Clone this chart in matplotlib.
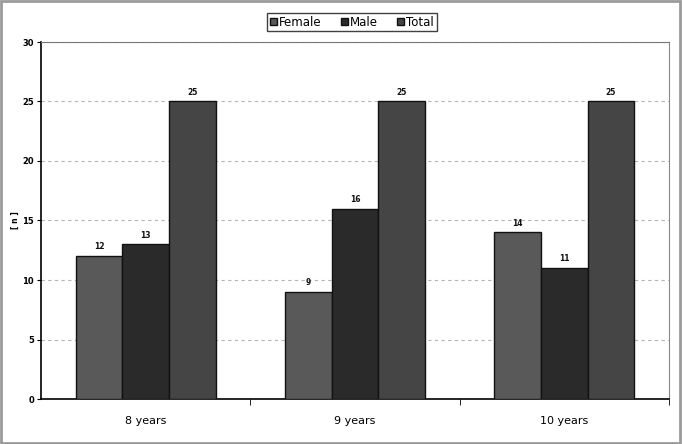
import matplotlib
matplotlib.use("Agg")
import matplotlib.pyplot as plt
from matplotlib.patches import Rectangle
import numpy as np

categories = ["8 years", "9 years", "10 years"]
female = [12, 9, 14]
male = [13, 16, 11]
total = [25, 25, 25]
series_names = ["Female", "Male", "Total"]
colors = ["#595959", "#2a2a2a", "#454545"]

fig = plt.figure(figsize=(6.82, 4.44), dpi=100)
fig.patches.append(Rectangle((0.002, 0.003), 0.995, 0.994, transform=fig.transFigure,
                             fill=False, edgecolor="#9a9a9a", linewidth=2))
ax = fig.add_axes([41/682, 1-399/444, (669-41)/682, (399-42)/444])

x = np.arange(len(categories))
w = 0.223
data = [female, male, total]
for i, (vals, name, c) in enumerate(zip(data, series_names, colors)):
    bars = ax.bar(x + (i-1)*w, vals, width=w, color=c, edgecolor="#111111",
                  linewidth=1.0, label=name, zorder=3)
    for b, v in zip(bars, vals):
        ax.text(b.get_x()+b.get_width()/2, v+0.4, str(v), ha="center", va="bottom",
                fontsize=5.5, fontweight="bold", color="#111111")

ax.set_xlim(-0.5, 2.5)
ax.set_ylim(0, 30)
ax.set_yticks(range(0, 31, 5))
ax.yaxis.grid(True, linestyle=(0, (3, 3)), color="#b5b5b5", linewidth=0.8, zorder=0)
ax.set_xticks(x)
ax.set_xticklabels(categories, fontsize=8)
ax.tick_params(axis="x", length=0, pad=12)
ax.set_xticks([0.5, 1.5, 2.5], minor=True)
ax.tick_params(axis="x", which="minor", length=4, direction="out")
ax.tick_params(axis="y", labelsize=6, length=3, pad=2)
for lab in ax.get_yticklabels():
    lab.set_fontweight("bold")
ax.spines["left"].set_linewidth(1.2)
ax.spines["bottom"].set_linewidth(1.2)
ax.spines["top"].set_linestyle((0, (1, 1)))
ax.spines["top"].set_color("#777777")
ax.spines["top"].set_linewidth(0.8)
ax.spines["right"].set_color("#888888")
ax.spines["right"].set_linewidth(0.8)
ax.set_ylabel("[ n ]", fontsize=5.5, fontweight="bold")
ax.yaxis.set_label_coords(-21/628, 0.5)

leg = fig.legend(loc="center", bbox_to_anchor=(352/682, 1-22/444), ncol=3,
                 fontsize=8.5, frameon=True, fancybox=False, edgecolor="#111111",
                 handlelength=0.6, handleheight=0.6, handletextpad=0.2,
                 columnspacing=1.6, borderpad=0.2)
leg.get_frame().set_linewidth(1.0)

fig.savefig("out.png", dpi=100)
